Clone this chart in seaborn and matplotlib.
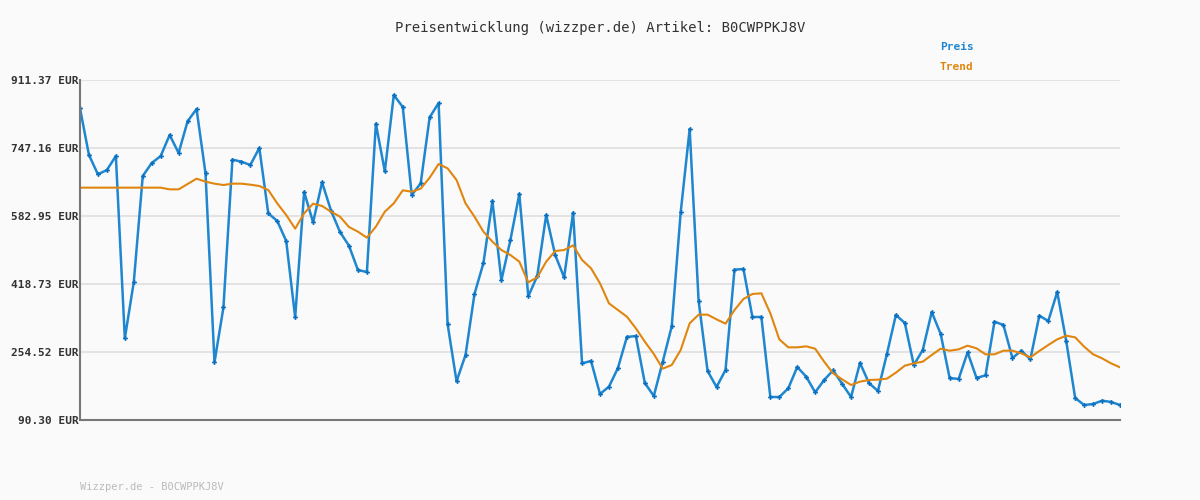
import numpy as np
import matplotlib
matplotlib.use("Agg")
import matplotlib.pyplot as plt
import seaborn as sns

# Prices (EUR)
preis = [
    843.0, 730.2, 683.6, 694.0, 727.8, 287.5, 423.6, 679.5, 710.9, 727.8,
    778.6, 735.1, 811.6, 841.3, 686.0, 229.6, 362.4, 719.0, 714.1, 706.1,
    747.2, 589.4, 570.9, 522.6, 338.2, 640.9, 567.6, 664.2, 595.8, 544.3,
    511.3, 452.5, 447.7, 805.9, 690.8, 875.1, 846.2, 633.7, 661.8, 821.2,
    855.8, 322.1, 183.7, 247.3, 394.6, 469.4, 619.2, 427.6, 524.2, 636.1,
    389.0, 438.0, 585.4, 488.8, 434.8, 591.0, 227.1, 232.8, 153.1, 170.8,
    215.9, 290.7, 293.1, 179.6, 148.3, 231.2, 316.5, 591.8, 793.0, 377.7,
    208.6, 170.0, 211.0, 453.3, 454.9, 339.0, 339.0, 145.8, 145.8, 166.8,
    218.3, 195.0, 157.1, 186.9, 210.2, 178.0, 145.8, 228.0, 179.6, 160.3,
    249.7, 343.9, 324.5, 223.1, 259.3, 351.1, 298.0, 191.7, 189.3, 253.7,
    191.7, 198.2, 327.8, 319.7, 240.0, 257.7, 236.8, 342.3, 329.4, 399.4,
    281.1, 143.4, 126.5, 128.9, 137.0, 133.8, 126.5,
]
trend = [
    651.4, 651.4, 651.4, 651.4, 651.4, 651.4, 651.4, 651.4, 651.4, 651.4,
    647.3, 647.3, 660.2, 673.1, 665.9, 661.0, 657.8, 661.0, 661.0, 658.6,
    655.4, 645.7, 613.5, 585.4, 552.4, 589.4, 612.7, 607.1, 593.4, 581.3,
    556.4, 545.1, 530.6, 557.2, 593.4, 613.5, 644.9, 641.7, 649.0, 675.5,
    708.5, 698.0, 669.9, 613.5, 581.3, 545.1, 521.0, 500.8, 488.8, 472.7,
    422.7, 434.8, 472.7, 498.4, 500.8, 512.1, 476.7, 456.6, 420.3, 372.0,
    355.9, 339.8, 311.7, 279.5, 249.7, 214.3, 223.1, 259.3, 323.7, 344.7,
    344.7, 333.4, 322.9, 355.9, 382.5, 394.6, 396.2, 347.9, 285.1, 265.8,
    265.8, 268.2, 262.5, 231.2, 203.0, 188.5, 174.8, 182.9, 186.9, 187.7,
    190.1, 204.6, 221.5, 227.1, 231.2, 247.3, 262.5, 257.7, 260.9, 269.8,
    263.4, 248.9, 248.9, 257.7, 257.7, 251.3, 241.6, 256.9, 271.4, 285.1,
    293.9, 289.9, 267.4, 248.9, 239.2, 227.1, 217.5,
]
yticks = [90.30, 254.52, 418.73, 582.95, 747.16, 911.37]
tick_labels = [f"{v:.2f} EUR" for v in yticks]

sns.set_theme(style="white")
plt.rcParams['font.family'] = ['DejaVu Sans Mono']

blue = "#1f86d0"
orange = "#e0860f"

fig = plt.figure(figsize=(12, 5), dpi=100, facecolor="#fafafa")
ax = fig.add_axes([80 / 1200, 80 / 500, 1040 / 1200, 340 / 500])
ax.set_facecolor("#fafafa")

x = np.arange(len(preis))
sns.lineplot(x=x, y=preis, ax=ax, color=blue, lw=1.8, marker="P", markersize=3.5,
             markeredgewidth=0, markerfacecolor="#0b6fbf")
sns.lineplot(x=x, y=trend, ax=ax, color=orange, lw=1.5)

ax.set_xlim(0, len(preis) - 1)
ax.set_ylim(yticks[0], yticks[-1])
ax.set_yticks(yticks)
ax.set_yticklabels(tick_labels, fontsize=8, fontweight="bold", color="#333333")
ax.set_xticks([])
ax.grid(axis="y", color="#e3e3e3", lw=1.5)
ax.tick_params(axis="y", length=0, pad=1)
for s in ["top", "right"]:
    ax.spines[s].set_visible(False)
for s in ["left", "bottom"]:
    ax.spines[s].set_color("#777777")
    ax.spines[s].set_linewidth(1.5)

fig.text(0.5, 1 - 28 / 500, "Preisentwicklung (wizzper.de) Artikel: B0CWPPKJ8V",
         ha="center", va="center", fontsize=10, color="#333333")
fig.text(940 / 1200, 1 - 47 / 500, "Preis", color=blue, fontsize=8, fontweight="bold", va="center")
fig.text(940 / 1200, 1 - 67 / 500, "Trend", color=orange, fontsize=8, fontweight="bold", va="center")
fig.text(80 / 1200, 1 - 487 / 500, "Wizzper.de - B0CWPPKJ8V", color="#bbbbbb", fontsize=7.5, va="center")

fig.savefig("out.png", dpi=100, facecolor=fig.get_facecolor())
